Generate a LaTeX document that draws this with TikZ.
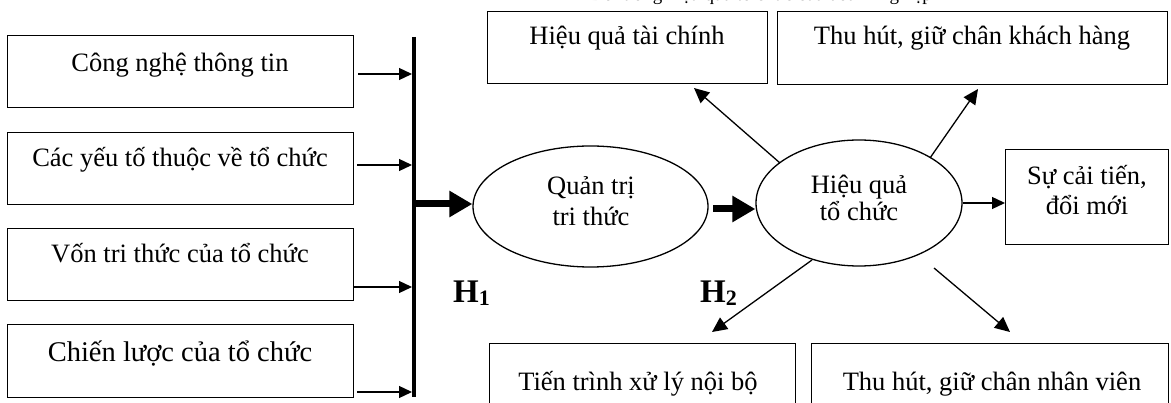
\documentclass[tikz,border=0pt]{standalone}
\usepackage{fontspec}
\setmainfont{Liberation Serif}
\usetikzlibrary{arrows.meta,shapes.geometric}
\begin{document}
\begin{tikzpicture}[x=1pt,y=-1pt,
 box/.style={draw, line width=1.3pt, inner sep=0, anchor=north west},
 txt/.style={font=\fontsize{26.5}{30}\selectfont, inner sep=0, anchor=base},
 oval/.style={draw, ellipse, line width=1.3pt, inner sep=0},
 thinarrow/.style={line width=1.3pt, -{Triangle[length=13pt,width=12pt]}},
 diagarrow/.style={line width=1.3pt, -{Triangle[length=15pt,width=14pt]}},
 fatarrow/.style={line width=7pt, -{Triangle[length=23pt,width=25pt]}},
 hlabel/.style={font=\fontsize{33}{36}\selectfont\bfseries, inner sep=0, anchor=base west}
]
\useasboundingbox (0,0) rectangle (1171,403);

% clipped title at the top
\node[font=\fontsize{19}{22}\selectfont, inner sep=0, anchor=base east] (title) at (932,0.5) {Đo lường hiệu quả tổ chức của doanh nghiệp};

% left boxes
\node[box, minimum width=346pt, minimum height=72pt] (b1) at (7,35) {};
\node[box, minimum width=346pt, minimum height=72pt] (b2) at (7,132) {};
\node[box, minimum width=346pt, minimum height=72pt] (b3) at (7,228) {};
\node[box, minimum width=346pt, minimum height=73pt] (b4) at (7,324) {};
\node[txt] (t1) at (180,72) {Công nghệ thông tin};
\node[txt] (t2) at (180,167) {Các yếu tố thuộc về tổ chức};
\node[txt] (t3) at (180,263) {Vốn tri thức của tổ chức};
\node[txt, font=\fontsize{28.5}{32}\selectfont] (t4) at (180,362) {Chiến lược của tổ chức};

% vertical bar
\coordinate (bartop) at (414,37);
\coordinate (barbot) at (414,397);
\draw[line width=4pt] (bartop) -- (barbot);

% arrows to the bar
\coordinate (s1) at (358,74);
\coordinate (s2) at (357,165);
\coordinate (s3) at (353,287);
\coordinate (s4) at (357,392);
\foreach \s in {s1,s2,s3,s4}
  \draw[thinarrow, shorten >=2pt] (\s) -- (\s -| bartop);

% ellipses
\node[oval, minimum width=235pt, minimum height=121pt] (e1) at (590.5,206.5) {};
\node[txt] (e1a) at (591,195) {Quản trị};
\node[txt] (e1b) at (591,226) {tri thức};
\node[oval, minimum width=206pt, minimum height=126pt] (e2) at (859,203) {};
\node[txt] (e2a) at (859,194) {Hiệu quả};
\node[txt] (e2b) at (859,221) {tổ chức};

% fat arrows
\coordinate (f1) at (414,204);
\draw[fatarrow] (f1) -- (f1 -| e1.west);
\coordinate (f2) at (713,209);
\draw[fatarrow] (f2) -- (f2 -| e2.west);

% top boxes
\node[box, minimum width=280pt, minimum height=72pt] (r1) at (487,11) {};
\node[txt] (r1t) at (627,45) {Hiệu quả tài chính};
\node[box, minimum width=390pt, minimum height=73pt] (r2) at (777,11) {};
\node[txt] (r2t) at (972,45) {Thu hút, giữ chân khách hàng};

% right box
\node[box, minimum width=163pt, minimum height=95pt] (r3) at (1005,149) {};
\node[txt] (r3a) at (1087,185) {Sự cải tiến,};
\node[txt] (r3b) at (1087,215) {đổi mới};

% bottom boxes (cut off at bottom)
\node[box, minimum width=306pt, minimum height=80pt] (r4) at (489,343) {};
\node[txt] (r4t) at (638,391) {Tiến trình xử lý nội bộ};
\node[box, minimum width=357pt, minimum height=80pt] (r5) at (811,343) {};
\node[txt] (r5t) at (992,391) {Thu hút, giữ chân nhân viên};

% arrows from e2
\draw[thinarrow] (e2.east) -- (e2.east -| r3.west);
\coordinate (d1s) at (780,163);
\coordinate (d1e) at (694,88);
\draw[diagarrow] (d1s) -- (d1e);
\coordinate (d2s) at (930,158);
\coordinate (d2e) at (978,89);
\draw[diagarrow] (d2s) -- (d2e);
\coordinate (d3s) at (812,260);
\coordinate (d3e) at (712,332);
\draw[diagarrow] (d3s) -- (d3e);
\coordinate (d4s) at (934,268);
\coordinate (d4e) at (1010,332);
\draw[diagarrow] (d4s) -- (d4e);

% hypothesis labels
\node[hlabel] (h1) at (453,303) {H\raisebox{-3pt}{\fontsize{22}{22}\selectfont 1}};
\node[hlabel] (h2) at (700,303) {H\raisebox{-3pt}{\fontsize{22}{22}\selectfont 2}};
\end{tikzpicture}
\end{document}
